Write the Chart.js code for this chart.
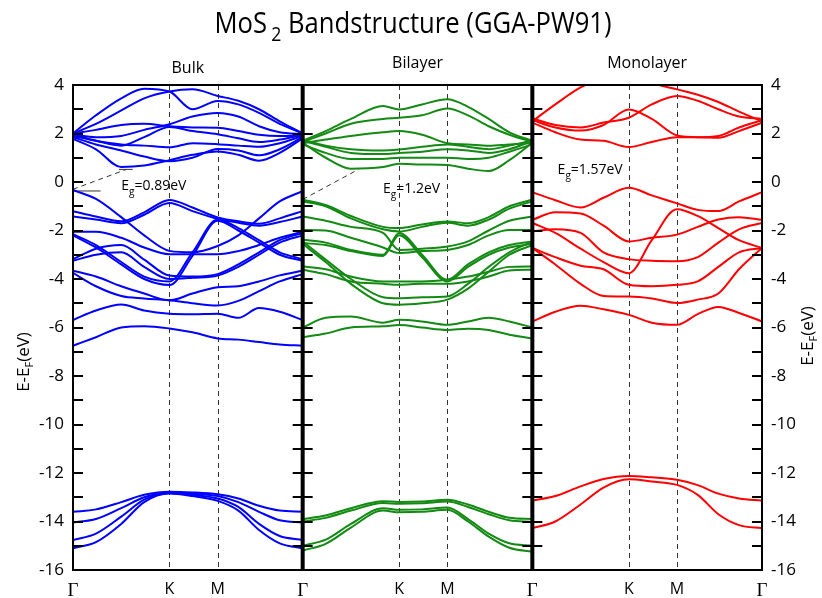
<!DOCTYPE html>
<html>
<head>
<meta charset="utf-8">
<title>MoS2 Bandstructure (GGA-PW91)</title>
<script src="https://cdn.jsdelivr.net/npm/chart.js@4.4.1/dist/chart.umd.min.js"></script>
<style>
  html, body { margin: 0; padding: 0; background: #fff; }
  #wrap { width: 822px; height: 598px; }
</style>
</head>
<body>
<div id="wrap"><canvas id="bands" width="822" height="598"></canvas></div>
<script>
'use strict';

// k-path sampling, fraction of each panel (Γ - K - M - Γ)
const kPath = [0, 0.1, 0.21, 0.31, 0.42, 0.52, 0.63, 0.72, 0.81, 0.9, 1];
const kPathBilayer = [0, 0.1, 0.21, 0.35, 0.42, 0.52, 0.63, 0.72, 0.81, 0.9, 1];
const symK = [0, 0.42, 0.63, 1];
const symLabels = ['Γ', 'K', 'M', 'Γ'];
const panelNames = ['Bulk', 'Bilayer', 'Monolayer'];
const panelColors = ['#0000ff', '#138a13', '#ff0000'];
const energyMin = -16;
const energyMax = 4;
const energyStep = 2;

// Bulk (eV)
const bulkConduction = [
  [1.78, 1.35, 0.62, 0.68, 0.90, 1.12, 1.26, 1.12, 0.88, 1.20, 1.80],
  [1.85, 1.55, 1.30, 1.05, 0.86, 1.00, 1.36, 1.30, 1.10, 1.35, 1.85],
  [1.90, 1.70, 1.55, 1.50, 1.43, 1.60, 1.56, 1.50, 1.45, 1.60, 1.90],
  [1.95, 1.70, 1.50, 1.85, 2.27, 2.10, 1.97, 1.80, 1.65, 1.75, 1.95],
  [1.97, 1.85, 1.90, 2.15, 2.38, 2.70, 2.85, 2.70, 2.30, 2.05, 1.97],
  [2.00, 2.15, 2.35, 2.40, 2.30, 2.25, 2.24, 2.10, 1.95, 1.90, 1.92],
  [2.00, 2.40, 2.95, 3.45, 3.73, 3.82, 3.55, 3.35, 3.00, 2.50, 2.00],
  [2.00, 2.75, 3.45, 3.85, 3.73, 3.00, 3.34, 3.20, 2.85, 2.40, 2.00]
];
const bulkValence = [
  [-0.33, -0.70, -1.45, -2.20, -2.84, -2.90, -2.64, -2.20, -1.50, -0.80, -0.38],
  [-1.20, -1.42, -1.62, -1.25, -0.74, -1.05, -1.46, -1.62, -1.72, -1.50, -1.20],
  [-1.42, -1.55, -1.70, -1.35, -0.87, -1.20, -1.52, -1.68, -1.80, -1.65, -1.42],
  [-2.05, -2.05, -2.30, -2.70, -2.98, -2.98, -2.98, -2.85, -2.60, -2.30, -2.05],
  [-2.15, -2.60, -3.30, -3.90, -4.10, -2.90, -1.55, -1.90, -2.40, -2.90, -3.18],
  [-2.20, -2.70, -3.40, -4.00, -4.25, -3.05, -1.60, -2.00, -2.50, -3.00, -3.25],
  [-3.18, -2.75, -2.60, -3.20, -3.86, -3.90, -3.80, -3.40, -2.90, -2.40, -2.10],
  [-3.25, -3.00, -2.90, -3.50, -4.00, -3.95, -3.86, -3.50, -3.00, -2.50, -2.20],
  [-3.66, -3.90, -4.30, -4.60, -4.88, -4.60, -4.34, -4.30, -4.10, -3.85, -3.66],
  [-3.75, -4.30, -4.70, -4.80, -4.88, -5.00, -5.09, -4.90, -4.50, -4.10, -3.80],
  [-5.69, -5.30, -5.05, -5.30, -5.43, -5.45, -5.43, -5.60, -5.20, -5.35, -5.69],
  [-6.75, -6.40, -6.00, -5.95, -6.04, -6.20, -6.45, -6.50, -6.60, -6.70, -6.75]
];
const bulkSemicore = [
  [-13.60, -13.50, -13.20, -12.90, -12.77, -12.80, -12.88, -13.05, -13.35, -13.55, -13.60],
  [-14.04, -13.90, -13.45, -13.00, -12.80, -12.85, -12.95, -13.20, -13.60, -13.95, -14.04],
  [-14.76, -14.50, -13.80, -13.10, -12.82, -12.90, -13.05, -13.40, -14.10, -14.60, -14.76],
  [-15.10, -14.85, -14.10, -13.20, -12.85, -12.95, -13.15, -13.55, -14.35, -14.90, -15.10]
];

// Bilayer (eV)
const bilayerConduction = [
  [1.62, 1.00, 0.55, 0.62, 0.75, 0.72, 0.70, 0.55, 0.45, 0.90, 1.62],
  [1.55, 1.20, 0.95, 0.95, 1.00, 1.00, 1.00, 0.95, 1.00, 1.25, 1.55],
  [1.70, 1.45, 1.20, 1.15, 1.20, 1.25, 1.35, 1.30, 1.20, 1.35, 1.70],
  [1.75, 1.50, 1.35, 1.30, 1.34, 1.45, 1.55, 1.45, 1.35, 1.50, 1.72],
  [1.60, 1.75, 1.90, 2.05, 2.10, 1.95, 1.60, 1.55, 1.50, 1.55, 1.60],
  [1.65, 2.00, 2.40, 2.60, 2.65, 2.75, 3.03, 2.75, 2.30, 1.95, 1.65],
  [1.70, 2.10, 2.60, 3.13, 2.99, 3.20, 3.41, 3.10, 2.60, 2.05, 1.70]
];
const bilayerValence = [
  [-0.73, -0.95, -1.40, -1.85, -1.90, -1.75, -1.63, -1.70, -1.45, -1.00, -0.73],
  [-0.80, -1.00, -1.50, -1.95, -2.04, -1.85, -1.68, -1.80, -1.55, -1.10, -0.80],
  [-1.42, -1.60, -1.85, -2.10, -2.80, -2.75, -2.66, -2.45, -2.00, -1.60, -1.42],
  [-1.98, -2.00, -2.30, -2.70, -2.93, -2.85, -2.80, -2.60, -2.20, -1.98, -1.98],
  [-2.38, -2.50, -2.80, -3.00, -2.10, -3.00, -4.03, -3.40, -2.90, -2.60, -2.45],
  [-2.52, -2.60, -2.85, -3.05, -2.20, -3.10, -4.10, -3.50, -3.00, -2.70, -2.55],
  [-3.48, -3.60, -3.90, -4.10, -4.10, -4.10, -4.03, -3.90, -3.70, -3.50, -3.48],
  [-3.62, -3.80, -4.10, -4.20, -4.24, -4.20, -4.20, -4.10, -3.90, -3.65, -3.62],
  [-2.45, -3.20, -4.00, -4.75, -4.79, -4.75, -4.72, -4.20, -3.50, -2.90, -2.45],
  [-2.55, -3.30, -4.20, -5.00, -5.06, -5.00, -4.85, -4.40, -3.70, -3.00, -2.60],
  [-6.00, -5.60, -5.55, -5.80, -5.68, -5.75, -5.89, -5.75, -5.60, -5.75, -6.00],
  [-6.40, -6.25, -6.00, -5.95, -5.90, -6.00, -6.10, -6.05, -6.10, -6.30, -6.45]
];
const bilayerSemicore = [
  [-13.90, -13.75, -13.45, -13.16, -13.20, -13.18, -13.10, -13.30, -13.60, -13.85, -13.90],
  [-14.00, -13.85, -13.55, -13.24, -13.27, -13.25, -13.18, -13.40, -13.70, -13.95, -14.02],
  [-15.00, -14.75, -14.10, -13.45, -13.52, -13.50, -13.42, -13.90, -14.50, -14.90, -15.00],
  [-15.20, -14.92, -14.25, -13.55, -13.62, -13.60, -13.52, -14.00, -14.62, -15.08, -15.25]
];

// Monolayer (eV)
const monoConduction = [
  [2.45, 2.05, 1.75, 1.70, 1.44, 1.65, 1.85, 1.85, 1.82, 2.10, 2.45],
  [2.55, 2.25, 2.12, 2.35, 2.99, 2.60, 1.92, 1.85, 1.90, 2.25, 2.55],
  [2.62, 2.35, 2.25, 2.45, 2.65, 3.20, 3.55, 3.35, 3.00, 2.70, 2.60],
  [2.50, 3.20, 3.90, 4.30, 4.60, 4.10, 3.82, 3.60, 3.30, 2.90, 2.50]
];
const monoValence = [
  [-0.42, -0.75, -1.05, -0.65, -0.24, -0.55, -0.88, -1.15, -1.20, -0.80, -0.42],
  [-1.56, -1.25, -1.30, -1.80, -2.45, -2.30, -2.17, -1.85, -1.55, -1.45, -1.56],
  [-1.69, -2.10, -2.75, -3.30, -3.76, -2.40, -1.12, -1.40, -1.90, -2.40, -2.72],
  [-2.04, -1.95, -2.10, -2.90, -3.18, -3.25, -3.27, -3.10, -2.50, -1.95, -1.69],
  [-2.72, -3.10, -3.45, -3.60, -4.24, -4.30, -4.24, -4.10, -3.50, -2.90, -2.72],
  [-2.72, -3.40, -4.20, -4.70, -4.72, -4.80, -4.99, -4.85, -4.60, -3.60, -2.72],
  [-5.75, -5.35, -5.10, -5.25, -5.48, -5.80, -5.89, -5.45, -5.15, -5.40, -5.75]
];
const monoSemicore = [
  [-13.14, -12.95, -12.55, -12.25, -12.12, -12.18, -12.28, -12.50, -12.85, -13.05, -13.14],
  [-14.28, -14.00, -13.30, -12.60, -12.26, -12.35, -12.49, -12.90, -13.70, -14.15, -14.28]
];

// band gap guides: [panel, k0, E0, k1, E1, dashed]
const gapGuides = [
  [0, 0.00, -0.30, 0.233, 0.52, true],
  [0, 0.00, -0.37, 0.12, -0.37, false],
  [0, 0.20, 0.52, 0.26, 0.52, false],
  [1, 0.00, -0.72, 0.243, 0.52, true]
];
// gap labels: [panel, k, E, value]
const gapLabels = [
  [0, 0.21, -0.31, '=0.89eV'],
  [1, 0.35, -0.44, '=1.2eV'],
  [2, 0.11, 0.31, '=1.57eV']
];

const FONT = '"Open Sans", "DejaVu Sans", sans-serif';

function bandSets(bands, kGrid, panel) {
  return bands.map((band) => ({
    data: band.map((e, i) => ({ x: panel + kGrid[i], y: e })),
    borderColor: panelColors[panel],
    borderWidth: 2,
    pointRadius: 0,
    cubicInterpolationMode: 'monotone',
    fill: false
  }));
}

function guideSets() {
  return gapGuides.map(([p, k0, e0, k1, e1, dashed]) => ({
    data: [{ x: p + k0, y: e0 }, { x: p + k1, y: e1 }],
    borderColor: '#333',
    borderWidth: 1,
    borderDash: dashed ? [5, 4] : [],
    pointRadius: 0,
    tension: 0
  }));
}

const xTickValues = [];
const xTickLabels = [];
for (let p = 0; p < panelNames.length; p++) {
  symK.forEach((k, i) => {
    if (p > 0 && i === 0) return;
    xTickValues.push(p + k);
    xTickLabels.push(symLabels[i]);
  });
}

// text with sub-scripted parts: [text, size, dy]; fitWidth squeezes it horizontally
function drawRich(ctx, parts, x, y, align, fitWidth) {
  let width = 0;
  for (const [t, size] of parts) {
    ctx.font = `${size}px ${FONT}`;
    width += ctx.measureText(t).width;
  }
  const sx = fitWidth ? fitWidth / width : 1;
  ctx.save();
  ctx.translate(align === 'center' ? x - (width * sx) / 2 : x, y);
  ctx.scale(sx, 1);
  ctx.textAlign = 'left';
  let cx = 0;
  for (const [t, size, dy] of parts) {
    ctx.font = `${size}px ${FONT}`;
    ctx.fillText(t, cx, dy);
    cx += ctx.measureText(t).width;
  }
  ctx.restore();
}

const bandFrame = {
  id: 'bandFrame',
  beforeDatasetsDraw(chart) {
    const { ctx, chartArea: a, scales: { x } } = chart;
    ctx.save();
    ctx.strokeStyle = '#333';
    ctx.lineWidth = 1;
    ctx.setLineDash([5, 4]);
    for (let p = 0; p < panelNames.length; p++) {
      for (const k of symK.slice(1, 3)) {
        const px = Math.round(x.getPixelForValue(p + k)) + 0.5;
        ctx.beginPath();
        ctx.moveTo(px, a.top);
        ctx.lineTo(px, a.bottom);
        ctx.stroke();
      }
    }
    ctx.restore();
  },
  afterDatasetsDraw(chart) {
    const { ctx, chartArea: a, scales: { x, y } } = chart;
    ctx.save();
    ctx.strokeStyle = '#000';
    // inward tick marks on every panel edge
    ctx.lineWidth = 2;
    for (let p = 0; p <= panelNames.length; p++) {
      const px = x.getPixelForValue(p);
      for (let e = energyMin + 1; e < energyMax; e++) {
        const py = Math.round(y.getPixelForValue(e));
        const len = 10;
        ctx.beginPath();
        ctx.moveTo(p > 0 ? px - len : px, py);
        ctx.lineTo(p < panelNames.length ? px + len : px, py);
        ctx.stroke();
      }
    }
    // frame
    ctx.lineWidth = 2;
    ctx.strokeRect(a.left, a.top, a.right - a.left, a.bottom - a.top);
    ctx.lineWidth = 4;
    for (let p = 1; p < panelNames.length; p++) {
      const px = x.getPixelForValue(p);
      ctx.beginPath();
      ctx.moveTo(px, a.top - 1);
      ctx.lineTo(px, a.bottom + 1);
      ctx.stroke();
    }
    ctx.restore();
  },
  afterDraw(chart) {
    const { ctx, chartArea: a, scales: { x, y } } = chart;
    ctx.save();
    ctx.fillStyle = '#000';
    ctx.textBaseline = 'alphabetic';

    drawRich(ctx, [['MoS', 29, 0], ['\u2009', 29, 0], ['2', 20, 8], [' Bandstructure (GGA-PW91)', 29, 0]], 413, 33, 'center', 397);

    const titleDy = [0, -5, -5];
    panelNames.forEach((name, p) => {
      ctx.font = `16px ${FONT}`;
      ctx.textAlign = 'center';
      ctx.fillText(name, x.getPixelForValue(p + 0.5), a.top - 12 + titleDy[p]);
    });

    gapLabels.forEach(([p, k, e, val]) => {
      drawRich(ctx, [['E', 14, 0], ['g', 10, 5], [val, 14, 0]], x.getPixelForValue(p + k), y.getPixelForValue(e), 'left');
    });

    ctx.textBaseline = 'middle';
    const axisTitle = [['E-E', 17, 0], ['F', 11, 6], ['(eV)', 17, 0]];
    ctx.save();
    ctx.translate(24, 362);
    ctx.rotate(-Math.PI / 2);
    drawRich(ctx, axisTitle, 0, 0, 'center');
    ctx.restore();
    ctx.save();
    ctx.translate(808, 336);
    ctx.rotate(-Math.PI / 2);
    drawRich(ctx, axisTitle, 0, 0, 'center');
    ctx.restore();

    ctx.restore();
  }
};

const datasets = [
  ...bandSets(bulkConduction, kPath, 0),
  ...bandSets(bulkValence, kPath, 0),
  ...bandSets(bulkSemicore, kPath, 0),
  ...bandSets(bilayerConduction, kPathBilayer, 1),
  ...bandSets(bilayerValence, kPathBilayer, 1),
  ...bandSets(bilayerSemicore, kPathBilayer, 1),
  ...bandSets(monoConduction, kPath, 2),
  ...bandSets(monoValence, kPath, 2),
  ...bandSets(monoSemicore, kPath, 2),
  ...guideSets()
];

const energyTicks = {
  stepSize: energyStep,
  color: '#000',
  padding: 9,
  font: { family: FONT, size: 17 }
};

new Chart(document.getElementById('bands'), {
  type: 'line',
  data: { datasets },
  options: {
    responsive: false,
    animation: false,
    devicePixelRatio: 1,
    layout: { padding: { top: 85, left: 0, right: 0, bottom: 0 } },
    plugins: {
      legend: { display: false },
      tooltip: { enabled: false }
    },
    scales: {
      x: {
        type: 'linear',
        min: 0,
        max: panelNames.length,
        afterBuildTicks(scale) {
          scale.ticks = xTickValues.map((v) => ({ value: v }));
        },
        afterFit(scale) { scale.height = 28; },
        grid: { display: false, drawTicks: false },
        border: { display: false },
        ticks: {
          autoSkip: false,
          maxRotation: 0,
          padding: 10,
          color: '#000',
          callback(value, index) { return xTickLabels[index]; },
          font(ctx) {
            return xTickLabels[ctx.index] === 'Γ'
              ? { family: '"Liberation Serif", serif', size: 19 }
              : { family: FONT, size: 16 };
          }
        }
      },
      y: {
        type: 'linear',
        position: 'left',
        min: energyMin,
        max: energyMax,
        afterFit(scale) { scale.width = 73; },
        grid: { display: false, drawTicks: false },
        border: { display: false },
        ticks: energyTicks
      },
      y2: {
        type: 'linear',
        position: 'right',
        min: energyMin,
        max: energyMax,
        afterFit(scale) { scale.width = 60; },
        grid: { display: false, drawTicks: false },
        border: { display: false },
        ticks: energyTicks
      }
    }
  },
  plugins: [bandFrame]
});
</script>
</body>
</html>
